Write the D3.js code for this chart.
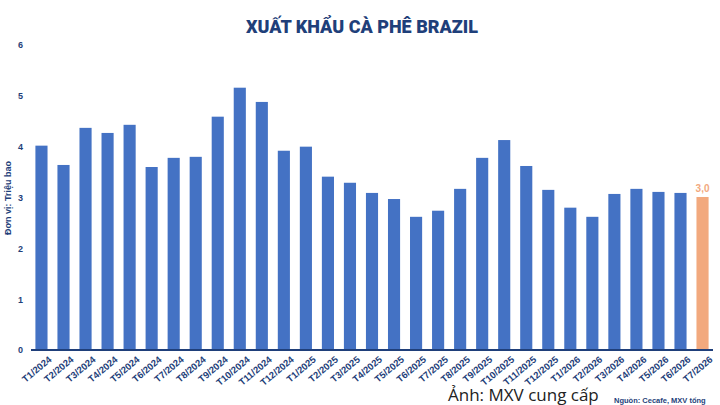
<!DOCTYPE html><html><head><meta charset="utf-8">
<script src="https://cdn.jsdelivr.net/npm/d3@7"></script>
<style>body{margin:0;background:#fff}</style></head><body>
<svg id="c" width="720" height="405"></svg>
<script>
const categories=["T1/2024","T2/2024","T3/2024","T4/2024","T5/2024","T6/2024","T7/2024","T8/2024","T9/2024","T10/2024","T11/2024","T12/2024","T1/2025","T2/2025","T3/2025","T4/2025","T5/2025","T6/2025","T7/2025","T8/2025","T9/2025","T10/2025","T11/2025","T12/2025","T1/2026","T2/2026","T3/2026","T4/2026","T5/2026","T6/2026","T7/2026"];
const values=[4.02,3.64,4.37,4.27,4.43,3.60,3.78,3.80,4.59,5.16,4.88,3.92,4.00,3.41,3.29,3.09,2.97,2.62,2.74,3.17,3.78,4.13,3.62,3.15,2.80,2.62,3.07,3.17,3.11,3.09,3.01];
const yTicks=[0,1,2,3,4,5,6];
const svg=d3.select("#c");
const x=d3.scaleBand().domain(categories).range([31,713]).paddingInner(0.45).paddingOuter(0.2);
const y=d3.scaleLinear().domain([0,6]).range([350,45]);
svg.append("text").attr("x",362).attr("y",33).attr("text-anchor","middle").attr("font-family","Roboto, Arial, sans-serif").attr("font-weight",900).attr("font-size",18).attr("fill","#1f3f7a").text("XUẤT KHẨU CÀ PHÊ BRAZIL");
const ya=svg.append("g").attr("transform","translate(26,0)").call(d3.axisLeft(y).tickValues(yTicks).tickSize(0).tickFormat(d3.format("d")));
ya.select(".domain").remove();
ya.selectAll("text").attr("font-family","Arial, sans-serif").attr("font-weight","bold").attr("font-size",9).attr("fill","#1f3f7a");
svg.append("text").attr("transform","translate(11,198) rotate(-90)").attr("text-anchor","middle").attr("font-family","Arial, sans-serif").attr("font-weight","bold").attr("font-size",9).attr("fill","#1f3f7a").text("Đơn vị: Triệu bao");
svg.selectAll("rect.b").data(values).join("rect").attr("class","b")
 .attr("x",(d,i)=>x(categories[i])).attr("width",x.bandwidth())
 .attr("y",d=>y(d)).attr("height",d=>y(0)-y(d))
 .attr("fill",(d,i)=>i===values.length-1?"#f2a97e":"#4472c4");
const xa=svg.append("g").attr("transform","translate(0,350)").call(d3.axisBottom(x).tickSize(0));
xa.select(".domain").attr("stroke","#1f3f7a").attr("stroke-width",2).attr("d","M31,0H713");
xa.selectAll("text").attr("font-family","Arial, sans-serif").attr("font-weight","bold").attr("font-size",9.5).attr("fill","#1f3f7a")
 .attr("text-anchor","end").attr("transform","translate(7,6) rotate(-40)").attr("dy","0.3em");
const li=values.length-1;
svg.append("text").attr("x",x(categories[li])+x.bandwidth()/2).attr("y",y(values[li])-5).attr("text-anchor","middle").attr("font-family","Arial, sans-serif").attr("font-weight","bold").attr("font-size",10).attr("fill","#f2a97e").text("3,0");
svg.append("text").attr("x",448).attr("y",401).attr("font-family","Open Sans, sans-serif").attr("font-size",17).attr("fill","#222").text("Ảnh: MXV cung cấp");
svg.append("text").attr("x",614).attr("y",403).attr("font-family","Arial, sans-serif").attr("font-weight","bold").attr("font-size",7.5).attr("fill","#1f3f7a").text("Nguồn: Cecafe, MXV tổng");
</script></body></html>
